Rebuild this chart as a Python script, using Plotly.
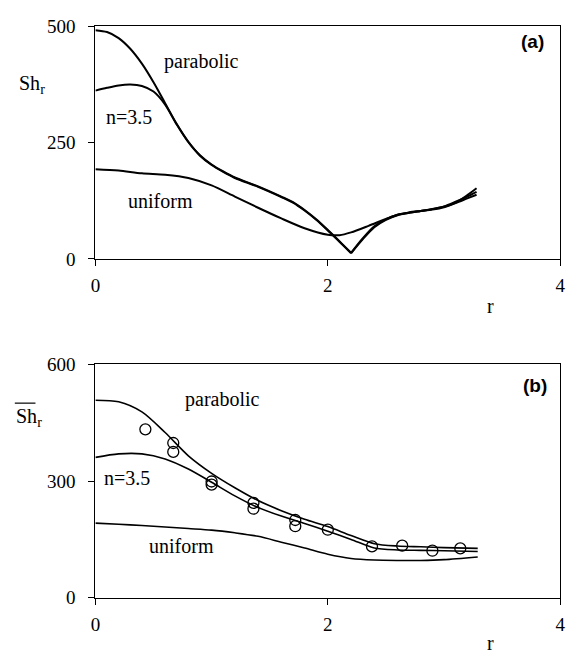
import plotly.graph_objects as go
from plotly.subplots import make_subplots

# ---- panel (a): local Sherwood number ----
r_a = [0, 0.1, 0.2, 0.3, 0.4, 0.5, 0.6, 0.7, 0.8, 0.9, 1.0, 1.1, 1.2, 1.4, 1.6, 1.7, 1.8, 1.9, 2.0, 2.1, 2.2,
       2.3, 2.4, 2.5, 2.6, 2.7, 2.8, 2.9, 3.0, 3.1, 3.2, 3.28]
sh_a_parab = [492, 488, 475, 452, 420, 380, 335, 290, 252, 223, 203, 188, 175, 156, 134, 122, 105, 85, 62, 38, 12,
              42, 68, 84, 94, 99, 103, 107, 113, 123, 134, 144]
sh_a_n35 = [362, 368, 373, 375, 372, 360, 332, 289, 251, 222, 202, 187, 174, 155, 133, 121, 104, 84, 61, 37, 13,
            44, 70, 85, 95, 100, 103, 106, 111, 120, 130, 138]

r_a_unif = [0, 0.2, 0.4, 0.6, 0.8, 1.0, 1.2, 1.4, 1.6, 1.8, 2.0, 2.1, 2.2, 2.35, 2.5, 2.6, 2.8, 3.0, 3.1, 3.2, 3.28]
sh_a_unif = [193, 190, 184, 181, 174, 158, 134, 110, 87, 66, 52, 51, 57, 71, 86, 95, 103, 112, 121, 137, 152]

# ---- panel (b): mean Sherwood number ----
r_b = [0, 0.2, 0.4, 0.6, 0.8, 1.0, 1.2, 1.4, 1.6, 1.8, 2.0, 2.2, 2.4, 2.6, 2.8, 3.0, 3.29]
sh_b_parab = [508, 504, 478, 425, 365, 320, 283, 250, 224, 202, 183, 160, 139, 133, 131, 129, 127]
sh_b_n35 = [361, 370, 370, 357, 331, 297, 262, 232, 210, 191, 171, 150, 128, 123, 122, 121, 119]
sh_b_unif = [192, 189, 186, 182, 178, 174, 167, 158, 143, 128, 112, 101, 97, 96, 96, 98, 105]

# measured values
r_exp = [0.43, 0.67, 0.67, 1.0, 1.0, 1.36, 1.36, 1.72, 1.72, 2.0, 2.38, 2.64, 2.9, 3.14]
sh_exp = [433, 398, 375, 299, 291, 244, 229, 200, 184, 175, 132, 134, 121, 127]

x_ticks = [0, 2, 4]
y_ticks_a = [0, 250, 500]
y_ticks_b = [0, 300, 600]

W, H = 578, 663


def fx(px):
    """pixel x -> paper fraction"""
    return px / W


def fy(py):
    """pixel y (from top) -> paper fraction"""
    return (H - py) / H


SERIF = "Liberation Serif, Times New Roman, serif"
SANS = "Liberation Sans, Arial, sans-serif"

fig = make_subplots(rows=2, cols=1)

line_a = dict(color="black", width=2, shape="spline", smoothing=0.8)
line_b = dict(color="black", width=1.6, shape="spline", smoothing=0.8)


def add_curve(xs, ys, line, row):
    # split at the sharp minimum so the cusp stays pointed
    i = ys.index(min(ys))
    if 0 < i < len(ys) - 1 and row == 1 and min(ys) < 30:
        parts = [(xs[:i + 1], ys[:i + 1]), (xs[i:], ys[i:])]
    else:
        parts = [(xs, ys)]
    for px, py in parts:
        fig.add_trace(go.Scatter(x=px, y=py, mode="lines", line=line, showlegend=False), row=row, col=1)


add_curve(r_a, sh_a_parab, line_a, 1)
add_curve(r_a, sh_a_n35, line_a, 1)
add_curve(r_a_unif, sh_a_unif, line_a, 1)

add_curve(r_b, sh_b_parab, line_b, 2)
add_curve(r_b, sh_b_n35, line_b, 2)
add_curve(r_b, sh_b_unif, line_b, 2)

fig.add_trace(go.Scatter(x=r_exp, y=sh_exp, mode="markers",
                         marker=dict(symbol="circle-open", size=11, color="black", line=dict(width=1.3)),
                         showlegend=False), row=2, col=1)

ax_common = dict(showgrid=False, zeroline=False, showline=True, linecolor="black", linewidth=1.2,
                 mirror=True, ticks="outside", ticklen=6, tickwidth=1, tickcolor="black",
                 tickfont=dict(family=SERIF, size=19, color="black"))

fig.update_xaxes(range=[0, 4], tickvals=x_ticks, domain=[fx(92), fx(565)], ticklabelstandoff=3, **ax_common)
fig.update_yaxes(ticklabelstandoff=9, **ax_common)
fig.update_yaxes(range=[0, 500], tickvals=y_ticks_a, domain=[fy(257), fy(17)], row=1, col=1)
fig.update_yaxes(range=[0, 600], tickvals=y_ticks_b, domain=[fy(607), fy(366)], row=2, col=1)

ann = []


def lab(text, x, y, xref, yref, size=20, family=SERIF, bold=False):
    ann.append(dict(text=("<b>%s</b>" % text) if bold else text, x=x, y=y, xref=xref, yref=yref,
                    showarrow=False, font=dict(family=family, size=size, color="black"),
                    xanchor="center", yanchor="middle"))


# curve labels, panel (a)
lab("parabolic", 0.91, 425, "x", "y")
lab("n=3.5", 0.29, 306, "x", "y")
lab("uniform", 0.56, 125, "x", "y")
lab("(a)", 3.76, 467, "x", "y", size=19, family=SANS, bold=True)
# curve labels, panel (b)
lab("parabolic", 1.09, 510, "x2", "y2")
lab("n=3.5", 0.27, 309, "x2", "y2")
lab("uniform", 0.74, 134, "x2", "y2")
lab("(b)", 3.78, 545, "x2", "y2", size=19, family=SANS, bold=True)

# axis titles
lab("Sh<sub>r</sub>", fx(27), fy(77), "paper", "paper")
lab("Sh<sub>r</sub>", fx(24), fy(421), "paper", "paper")
lab("r", fx(494), fy(306), "paper", "paper")
lab("r", fx(494), fy(654), "paper", "paper")

fig.update_layout(
    width=W, height=H,
    margin=dict(l=0, r=0, t=0, b=0),
    paper_bgcolor="white", plot_bgcolor="white",
    annotations=ann,
    shapes=[
        # bar over the mean Sherwood symbol
        dict(type="line", xref="paper", yref="paper", x0=fx(10), x1=fx(31),
             y0=fy(406), y1=fy(406), line=dict(color="black", width=1.2)),
    ],
)

# pin the figure to the page corner with no scrollbars
fig.write_html(
    "out.html",
    post_script="document.body.style.margin='0';document.body.style.overflow='hidden';",
)
